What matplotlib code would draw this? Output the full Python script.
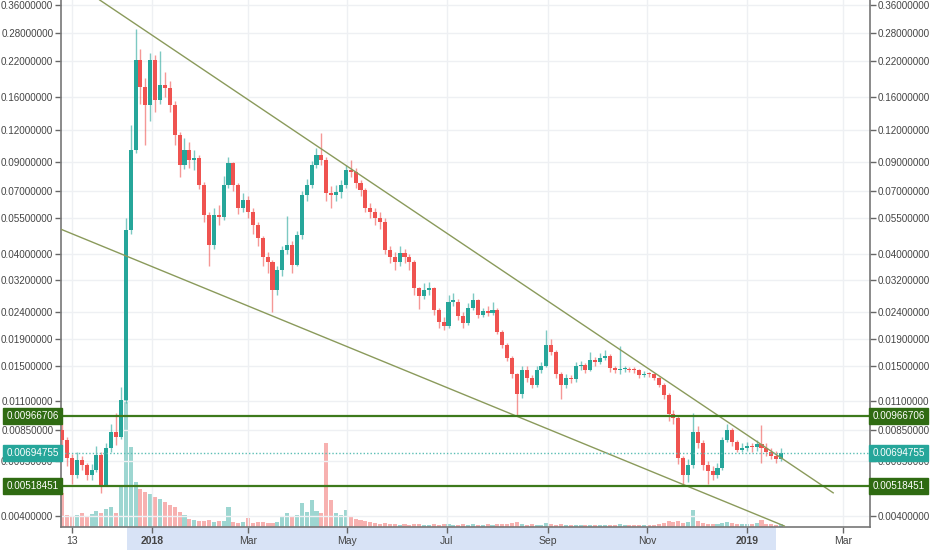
import numpy as np
import pandas as pd
import matplotlib
matplotlib.use('Agg')
import matplotlib.pyplot as plt
import matplotlib.dates as mdates
from matplotlib.patches import Rectangle
from matplotlib.ticker import NullLocator

plt.rcParams['font.family'] = ['Liberation Sans', 'DejaVu Sans']

# 3-day candles, first one on 2017-11-07
start_date = '2017-11-07'
first_open = 0.00850

closes = [
    0.00781, 0.00667, 0.00574, 0.00655, 0.00627, 0.00574, 0.00600, 0.00685, 0.00526, 0.00728,
    0.00838, 0.00803, 0.0111, 0.0497, 0.1004, 0.2218, 0.1748, 0.1492, 0.2218, 0.1560,
    0.1780, 0.1734, 0.1492, 0.1146, 0.0880, 0.1004, 0.0920, 0.0936, 0.0738, 0.0567,
    0.0435, 0.0567, 0.0555, 0.0738, 0.0896, 0.0738, 0.0603, 0.0647, 0.0582, 0.0519,
    0.0463, 0.0391, 0.0375, 0.0293, 0.0349, 0.0416, 0.0435, 0.0365, 0.0475, 0.0676,
    0.0738, 0.0880, 0.0961, 0.0920, 0.0688, 0.0676, 0.0694, 0.0738, 0.0842, 0.0827,
    0.0751, 0.0706, 0.0603, 0.0582, 0.0552, 0.0533, 0.0416, 0.0391, 0.0375, 0.0405,
    0.0391, 0.0375, 0.0298, 0.0278, 0.0293, 0.0298, 0.0245, 0.0221, 0.0213, 0.0264,
    0.0264, 0.0233, 0.0219, 0.0250, 0.0268, 0.0235, 0.0243, 0.0239, 0.0245, 0.0202,
    0.0180, 0.0161, 0.0139, 0.0117, 0.0145, 0.0135, 0.0127, 0.0145, 0.0150, 0.0180,
    0.0170, 0.0139, 0.0127, 0.0135, 0.0133, 0.0150, 0.0151, 0.0145, 0.0158, 0.0155,
    0.0161, 0.0164, 0.0147, 0.0145, 0.0146, 0.0146, 0.0145, 0.0144, 0.0138, 0.0140,
    0.0139, 0.0135, 0.0127, 0.0116, 0.00982, 0.00948, 0.00667, 0.00574, 0.00627, 0.00838,
    0.00761, 0.00627, 0.00595, 0.00574, 0.00611, 0.00781, 0.00853, 0.00768, 0.00716, 0.00728,
    0.00741, 0.00735, 0.00755, 0.00728, 0.00703, 0.00679, 0.00661, 0.00695]

highs = [
    0.0090, 0.0080, 0.0069, 0.0070, 0.0068, 0.0064, 0.0063, 0.0074, 0.0070, 0.0076,
    0.0090, 0.0099, 0.0125, 0.055, 0.125, 0.290, 0.245, 0.190, 0.235, 0.232,
    0.240, 0.200, 0.185, 0.155, 0.118, 0.112, 0.108, 0.100, 0.096, 0.076,
    0.058, 0.060, 0.062, 0.080, 0.094, 0.090, 0.075, 0.069, 0.067, 0.060,
    0.053, 0.047, 0.041, 0.038, 0.036, 0.043, 0.056, 0.045, 0.049, 0.070,
    0.078, 0.091, 0.102, 0.117, 0.094, 0.073, 0.074, 0.077, 0.088, 0.092,
    0.086, 0.077, 0.072, 0.063, 0.060, 0.058, 0.055, 0.043, 0.041, 0.043,
    0.042, 0.040, 0.038, 0.030, 0.031, 0.0315, 0.030, 0.025, 0.023, 0.028,
    0.0285, 0.027, 0.024, 0.026, 0.0285, 0.027, 0.025, 0.0255, 0.0262, 0.0250,
    0.0205, 0.0183, 0.0163, 0.0141, 0.0150, 0.0150, 0.0138, 0.0150, 0.0155, 0.0205,
    0.0190, 0.0172, 0.0142, 0.0140, 0.0138, 0.0155, 0.0157, 0.0154, 0.0170, 0.0162,
    0.0168, 0.0172, 0.0167, 0.0150, 0.0178, 0.0150, 0.0149, 0.0148, 0.0146, 0.0143,
    0.0142, 0.0141, 0.0136, 0.0129, 0.0118, 0.0102, 0.0096, 0.0068, 0.0066, 0.0099,
    0.0088, 0.0078, 0.0065, 0.0062, 0.0064, 0.0080, 0.0090, 0.0087, 0.0078, 0.0076,
    0.0077, 0.0076, 0.0078, 0.0089, 0.0076, 0.0073, 0.0071, 0.0073]

lows = [
    0.0074, 0.0062, 0.0053, 0.0056, 0.0060, 0.0055, 0.0055, 0.0059, 0.0049, 0.0052,
    0.0070, 0.0075, 0.0079, 0.0108, 0.048, 0.098, 0.150, 0.105, 0.130, 0.140,
    0.150, 0.160, 0.140, 0.105, 0.079, 0.085, 0.086, 0.084, 0.071, 0.053,
    0.036, 0.042, 0.052, 0.054, 0.072, 0.070, 0.057, 0.058, 0.055, 0.048,
    0.043, 0.036, 0.034, 0.024, 0.028, 0.033, 0.040, 0.034, 0.036, 0.046,
    0.064, 0.072, 0.086, 0.088, 0.064, 0.060, 0.064, 0.066, 0.072, 0.079,
    0.072, 0.067, 0.058, 0.055, 0.052, 0.050, 0.040, 0.037, 0.035, 0.036,
    0.037, 0.035, 0.028, 0.0248, 0.027, 0.028, 0.0235, 0.021, 0.0205, 0.021,
    0.0255, 0.0225, 0.021, 0.0215, 0.0245, 0.0228, 0.023, 0.0232, 0.0235, 0.0198,
    0.0175, 0.0156, 0.0135, 0.0097, 0.0113, 0.0130, 0.0123, 0.0125, 0.0141, 0.0148,
    0.0165, 0.0135, 0.0112, 0.0123, 0.0129, 0.0130, 0.0145, 0.0141, 0.0143, 0.0150,
    0.0152, 0.0158, 0.0142, 0.0141, 0.0140, 0.0142, 0.0142, 0.0141, 0.0135, 0.0136,
    0.0136, 0.0132, 0.0124, 0.0112, 0.0092, 0.0090, 0.0063, 0.0052, 0.0054, 0.0061,
    0.0073, 0.0060, 0.0053, 0.0055, 0.0056, 0.0060, 0.0077, 0.0074, 0.0070, 0.0070,
    0.0071, 0.0070, 0.0071, 0.0064, 0.0068, 0.0066, 0.0064, 0.0065]

volumes = [
    34, 12, 10, 12, 14, 11, 13, 16, 14, 18,
    20, 14, 42, 130, 80, 45, 38, 35, 33, 30,
    28, 25, 22, 20, 15, 12, 8, 7, 6, 6,
    7, 5, 6, 6, 20, 5, 4, 5, 9, 4,
    5, 5, 4, 4, 5, 10, 14, 10, 12, 24,
    15, 27, 16, 14, 84, 27, 14, 12, 17, 10,
    8, 7, 6, 5, 4, 3, 4, 3, 3, 2,
    3, 2, 3, 3, 2, 2, 3, 2, 3, 3,
    2, 2, 3, 2, 3, 2, 2, 3, 2, 3,
    3, 3, 4, 5, 3, 2, 3, 2, 2, 4,
    3, 2, 3, 2, 2, 2, 2, 2, 2, 2,
    2, 2, 2, 2, 3, 2, 2, 2, 2, 2,
    2, 2, 3, 4, 6, 5, 6, 4, 5, 17,
    6, 4, 3, 3, 3, 4, 5, 4, 3, 3,
    3, 3, 4, 7, 3, 3, 2, 3]

y_ticks = [0.36, 0.28, 0.22, 0.16, 0.12, 0.09, 0.07, 0.055, 0.04, 0.032,
           0.024, 0.019, 0.015, 0.011, 0.0085, 0.0065, 0.004]
x_tick_dates = ['2017-11-13', '2018-01-01', '2018-03-01', '2018-05-01', '2018-07-01',
                '2018-09-01', '2018-11-01', '2019-01-01', '2019-03-01']
x_tick_labels = ['13', '2018', 'Mar', 'May', 'Jul', 'Sep', 'Nov', '2019', 'Mar']

# channel lines (date, price)
upper_dates = ['2017-11-30', '2019-02-23']
upper_vals = [0.376, 0.0049]
lower_dates = ['2017-11-06', '2019-01-24']
lower_vals = [0.050, 0.00366]

resistance = 0.00966706
support = 0.00518451
last_price = 0.00694755

up_col = '#26a69a'
down_col = '#ef5350'
label_size = 7.1

dates = pd.date_range(start_date, periods=len(closes), freq='3D')
x = mdates.date2num(dates)
o = np.array([first_open] + closes[:-1])
c = np.array(closes)
h = np.array(highs)
l = np.array(lows)
up = c >= o
cols = np.where(up, up_col, down_col)

fig = plt.figure(figsize=(9.32, 5.5), dpi=100)
ax = fig.add_axes([61 / 932, 23 / 550, 809 / 932, 527 / 550])
axv = ax.twinx()
ax.set_zorder(2)
axv.set_zorder(1)
ax.patch.set_visible(False)

# volume
axv.bar(x, volumes, width=2.5, color=cols, alpha=0.45, linewidth=0)
axv.set_ylim(0, 527)
axv.yaxis.set_visible(False)
for s in axv.spines.values():
    s.set_visible(False)

# candles
ax.vlines(x, l, h, colors=cols, lw=1, alpha=0.6, zorder=3)
body_h = np.maximum(np.abs(c - o), np.minimum(o, c) * 0.01)
ax.bar(x, body_h, bottom=np.minimum(o, c), width=2.5, color=cols, linewidth=0, zorder=4)

# channel
ax.plot(mdates.date2num(pd.to_datetime(upper_dates)), upper_vals, color='#8a9a5b', lw=1, zorder=5)
ax.plot(mdates.date2num(pd.to_datetime(lower_dates)), lower_vals, color='#8a9a5b', lw=1, zorder=5)

# levels
ax.axhline(resistance, color='#3d7a1c', lw=1.6, zorder=5)
ax.axhline(support, color='#3d7a1c', lw=1.6, zorder=5)
ax.axhline(last_price, color='#5cbfb5', lw=1, ls=(0, (1, 1.5)), zorder=5)

ax.set_yscale('log')
ax.set_ylim(0.003627, 0.376)
ax.set_xlim(mdates.date2num(pd.Timestamp('2017-11-06 06:00')),
            mdates.date2num(pd.Timestamp('2019-03-17 14:00')))

ax.set_yticks(y_ticks)
ax.yaxis.set_minor_locator(NullLocator())
ax.set_yticklabels([f'{v:.8f}' for v in y_ticks])
ax.tick_params(axis='y', which='both', left=True, right=True, labelleft=True, labelright=True,
               length=4, width=1, color='#666', labelsize=label_size, labelcolor='#444', pad=1.5)

ax.set_xticks(mdates.date2num(pd.to_datetime(x_tick_dates)))
ax.set_xticklabels(x_tick_labels)
ax.tick_params(axis='x', length=4, width=1, color='#666', labelsize=7.5, labelcolor='#444', pad=2.5)
for lab in ax.get_xticklabels():
    if lab.get_text() in ('2018', '2019'):
        lab.set_fontweight('bold')

ax.grid(True, color='#eef0f3', lw=1)
ax.set_axisbelow(True)

for side in ('left', 'right', 'bottom'):
    ax.spines[side].set_color('#777')
    ax.spines[side].set_linewidth(1.2)
ax.spines['top'].set_visible(False)

# selected range band under the date axis
band_start = mdates.date2num(pd.Timestamp('2017-12-17'))
band_end = mdates.date2num(pd.Timestamp('2019-01-19'))
ax.add_patch(Rectangle((band_start, -23 / 527), band_end - band_start, 23 / 527,
                       transform=ax.get_xaxis_transform(), clip_on=False,
                       facecolor='#d8e3f6', edgecolor='none', zorder=0))


def price_tag(val, color):
    for xa, ha in ((-0.003, 'right'), (1.003, 'left')):
        ax.text(xa, val, f'{val:.8f}', transform=ax.get_yaxis_transform(), ha=ha, va='center',
                fontsize=label_size, color='white', zorder=10, clip_on=False,
                bbox=dict(boxstyle='square,pad=0.3', fc=color, ec=color))


price_tag(resistance, '#2f6b12')
price_tag(support, '#2f6b12')
price_tag(last_price, '#26a69a')

fig.savefig('out.png', dpi=100)
